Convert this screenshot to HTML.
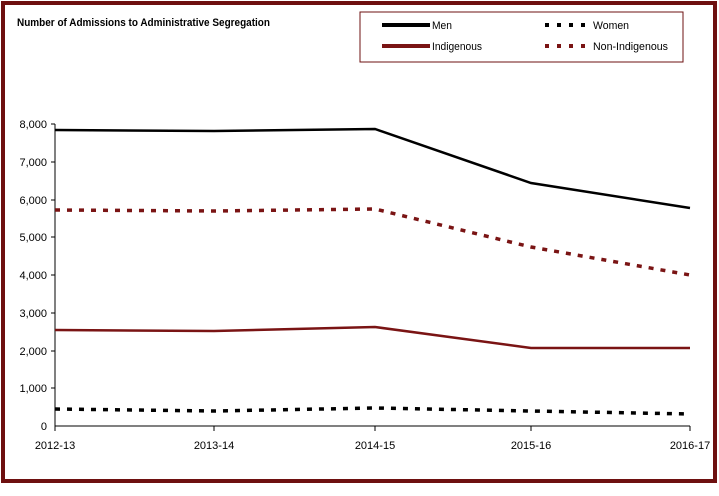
<!DOCTYPE html>
<html><head><style>
body{margin:0;background:#fff;width:719px;height:491px;overflow:hidden}
svg{font-family:"Liberation Sans",sans-serif}
</style></head><body>
<svg width="719" height="491" xmlns="http://www.w3.org/2000/svg">
<rect x="3" y="3" width="712" height="478" fill="none" stroke="#6e1010" stroke-width="4"/>
<text x="17" y="26" font-size="11" font-weight="bold" textLength="253" lengthAdjust="spacingAndGlyphs">Number of Admissions to Administrative Segregation</text>
<rect x="360" y="12" width="323" height="50" fill="none" stroke="#6e1010" stroke-width="1"/>
<line x1="382" y1="25" x2="430" y2="25" stroke="#000" stroke-width="4"/>
<text x="432" y="29" font-size="11" textLength="20" lengthAdjust="spacingAndGlyphs">Men</text>
<line x1="545" y1="25" x2="592" y2="25" stroke="#000" stroke-width="4" stroke-dasharray="4,8"/>
<text x="593" y="29" font-size="11" textLength="36" lengthAdjust="spacingAndGlyphs">Women</text>
<line x1="382" y1="46" x2="430" y2="46" stroke="#7a1414" stroke-width="4"/>
<text x="432" y="50" font-size="11" textLength="50" lengthAdjust="spacingAndGlyphs">Indigenous</text>
<line x1="545" y1="46" x2="592" y2="46" stroke="#7a1414" stroke-width="4" stroke-dasharray="4,8"/>
<text x="593" y="50" font-size="11" textLength="75" lengthAdjust="spacingAndGlyphs">Non-Indigenous</text>
<g stroke="#000" stroke-width="1">
<line x1="55" y1="124" x2="55" y2="426"/>
<line x1="55" y1="426" x2="690" y2="426"/>
<line x1="51" y1="124" x2="55" y2="124"/><line x1="51" y1="162" x2="55" y2="162"/>
<line x1="51" y1="200" x2="55" y2="200"/><line x1="51" y1="237" x2="55" y2="237"/>
<line x1="51" y1="275" x2="55" y2="275"/><line x1="51" y1="313" x2="55" y2="313"/>
<line x1="51" y1="351" x2="55" y2="351"/><line x1="51" y1="388" x2="55" y2="388"/>
<line x1="55" y1="426" x2="55" y2="431"/><line x1="214" y1="426" x2="214" y2="431"/>
<line x1="375" y1="426" x2="375" y2="431"/><line x1="531" y1="426" x2="531" y2="431"/>
<line x1="690" y1="426" x2="690" y2="431"/>
</g>
<g font-size="11" text-anchor="end">
<text x="47" y="128">8,000</text><text x="47" y="166">7,000</text>
<text x="47" y="204">6,000</text><text x="47" y="241">5,000</text>
<text x="47" y="279">4,000</text><text x="47" y="317">3,000</text>
<text x="47" y="355">2,000</text><text x="47" y="392">1,000</text>
<text x="47" y="430">0</text>
</g>
<g font-size="11" text-anchor="middle">
<text x="55" y="449">2012-13</text><text x="214" y="449">2013-14</text>
<text x="375" y="449">2014-15</text><text x="531" y="449">2015-16</text>
<text x="690" y="449">2016-17</text>
</g>
<polyline points="55,130 214,131 375,129 531,183 690,208" fill="none" stroke="#000" stroke-width="2.5"/>
<polyline points="55,210 214,211 375,209 531,247 690,275" fill="none" stroke="#7a1414" stroke-width="3.5" stroke-dasharray="5,7"/>
<polyline points="55,330 214,331 375,327 531,348 690,348" fill="none" stroke="#7a1414" stroke-width="2.5"/>
<polyline points="55,409 214,411 375,408 531,411 690,414" fill="none" stroke="#000" stroke-width="3.5" stroke-dasharray="5,7"/>
</svg>
</body></html>
